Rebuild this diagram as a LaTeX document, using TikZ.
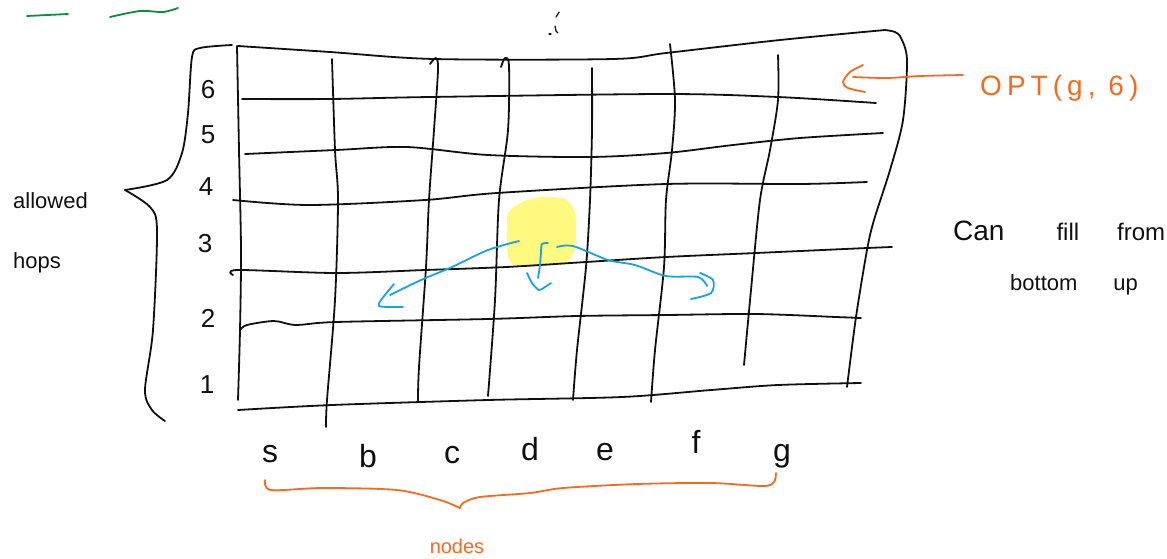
\documentclass[tikz,border=0pt]{standalone}
\usepackage{fontspec}
\setmainfont{Liberation Sans}
\newfontfamily\optfont[LetterSpace=18]{Liberation Sans}
\definecolor{ink}{HTML}{101010}
\definecolor{orng}{HTML}{F26B21}
\definecolor{cyanpen}{HTML}{1BA1DC}
\definecolor{grnpen}{HTML}{0E8C3A}
\definecolor{hilite}{HTML}{FFF97F}
\tikzset{
  pen/.style={line width=1.8pt, line cap=round, line join=round},
  gridpen/.style={pen, draw=ink},
  bluepen/.style={pen, draw=cyanpen},
  orangepen/.style={pen, draw=orng},
  greenpen/.style={pen, draw=grnpen},
  hand/.style={inner sep=0pt, text=ink},
  handorange/.style={inner sep=0pt, text=orng},
  digit/.style={hand, anchor=base, font=\fontsize{26}{28}\selectfont},
  letter/.style={hand, anchor=base, font=\fontsize{32}{34}\selectfont},
}
\begin{document}
\begin{tikzpicture}[x=1pt,y=-1pt]
\useasboundingbox (0,0) rectangle (1167,558);

% highlighted cell
\fill[hilite] plot[smooth cycle, tension=0.4] coordinates {(508,213) (522,202) (541,197) (565,199) (575,212) (576,235) (574,252) (566,262) (540,264) (514,265) (508,255) (507,235)};

% horizontal grid lines
\draw[gridpen] plot[smooth,tension=0.5] coordinates {(238,46) (330,52) (434,59) (613,59) (666,53) (780,40) (885,30)};
\draw[gridpen] plot[smooth,tension=0.5] coordinates {(242,99) (330,99) (430,97) (666,94) (778,97) (876,103)};
\draw[gridpen] plot[smooth,tension=0.5] coordinates {(245,154) (336,150) (407,147) (488,155) (590,157) (666,153) (733,145) (800,138) (883,133)};
\draw[gridpen] plot[smooth,tension=0.5] coordinates {(233,200) (309,205) (425,200) (497,193) (666,184) (800,184) (867,182)};
\draw[gridpen] plot[smooth,tension=0.5] coordinates {(233,275) (238,270) (336,273) (425,270) (506,267) (586,262) (666,257) (756,253) (867,248) (892,247)};
\draw[gridpen] plot[smooth,tension=0.5] coordinates {(240,330) (247,325) (274,321) (296,325) (336,322) (488,319) (577,316) (666,315) (756,314) (836,317) (861,318)};
\draw[gridpen] plot[smooth,tension=0.5] coordinates {(238,410) (332,405) (488,400) (622,397) (711,390) (778,385) (861,383)};

% vertical grid lines
\draw[gridpen] plot[smooth,tension=0.5] coordinates {(237,46) (239,150) (241,250) (240,330) (238,400)};
\draw[gridpen] plot[smooth,tension=0.5] coordinates {(332,59) (335,150) (338,200) (335,300) (327,400) (326,427)};
\draw[gridpen] plot[smooth,tension=0.5] coordinates {(430,64) (436,58) (438,70) (434,130) (429,200) (426,267) (419,367) (418,402)};
\draw[gridpen] plot[smooth,tension=0.5] coordinates {(501,67) (505,58) (509,66) (508,130) (499,200) (495,300) (488,396)};
\draw[gridpen] plot[smooth,tension=0.5] coordinates {(592,68) (592,130) (590,200) (586,267) (577,350) (573,400)};
\draw[gridpen] plot[smooth,tension=0.5] coordinates {(670,44) (675,100) (672,150) (666,200) (664,267) (655,350) (651,402)};
\draw[gridpen] plot[smooth,tension=0.5] coordinates {(778,55) (778,100) (770,150) (760,200) (751,290) (744,365)};
\draw[gridpen] plot[smooth,tension=0.5] coordinates {(885,30) (895,32) (901,38) (907,60) (903,120) (890,170) (874,220) (867,250) (856,317) (847,387)};

% blue arrows
\draw[bluepen] plot[smooth,tension=0.5] coordinates {(519,241) (488,250) (452,267) (421,280) (390,295)};
\draw[bluepen] plot[smooth,tension=0.5] coordinates {(394,284) (381,300) (379,306) (390,307) (403,307)};
\draw[bluepen] plot[smooth,tension=0.5] coordinates {(548,243) (542,244) (541,252) (540,265) (538,278)};
\draw[bluepen] plot[smooth,tension=0.5] coordinates {(527,273) (532,283) (539,290) (545,287) (551,283)};
\draw[bluepen] plot[smooth,tension=0.5] coordinates {(557,247) (573,246) (608,260) (635,265) (666,276) (698,277) (707,286)};
\draw[bluepen] plot[smooth,tension=0.5] coordinates {(700,273) (713,280) (711,293) (691,299)};

% orange arrow to OPT
\draw[orangepen] plot[smooth,tension=0.5] coordinates {(963,75) (920,76) (887,78) (853,77)};
\draw[orangepen] plot[smooth,tension=0.5] coordinates {(863,65) (850,72) (843,82) (848,88) (865,92)};

% left brace
\draw[gridpen] plot[smooth,tension=0.5] coordinates {(232,45) (200,48) (192,57) (188,113) (182,153) (167,180) (125,190)};
\draw[gridpen] plot[smooth,tension=0.5] coordinates {(125,190) (150,207) (157,230) (153,330) (145,390) (152,410) (165,421)};

% bottom orange brace
\draw[orangepen] plot[smooth,tension=0.5] coordinates {(265,480) (271,490) (323,488) (397,490) (440,500) (460,508)};
\draw[orangepen] plot[smooth,tension=0.5] coordinates {(460,508) (463,503) (480,497) (530,493) (563,488) (637,484) (711,483) (763,486) (774,482) (776,473)};

% green marks
\draw[greenpen] (27,16) -- (68,14);
\draw[greenpen] plot[smooth,tension=0.5] coordinates {(110,17) (140,11) (163,12) (178,8)};

% tiny marks
\draw[gridpen, line width=1.2pt] (559,12) -- (556,17);
\draw[gridpen, line width=1.2pt] (555,26) -- (556,31) -- (558,33);
\draw[gridpen, line width=1.2pt] (549,34) -- (551,34);

% texts
\node[hand, anchor=base west, font=\fontsize{22}{24}\selectfont] (allowed) at (13,208) {allowed};
\node[hand, anchor=base west, font=\fontsize{22}{24}\selectfont] (hops) at (13,268) {hops};

\node[digit] (h6) at (208,98) {6};
\node[digit] (h5) at (208,143) {5};
\node[digit] (h4) at (206,195) {4};
\node[digit] (h3) at (205,252) {3};
\node[digit] (h2) at (208,327) {2};
\node[digit] (h1) at (207,393) {1};

\node[letter] (ns) at (270,462) {s};
\node[letter] (nb) at (368,467) {b};
\node[letter] (nc) at (452,463) {c};
\node[letter] (nd) at (530,460) {d};
\node[letter] (ne) at (605,460) {e};
\node[letter] (nf) at (696,453) {f};
\node[letter] (ng) at (782,461) {g};

\node[handorange, anchor=base, font=\fontsize{20}{22}\selectfont] (nodes) at (457,553) {nodes};
\node[handorange, anchor=base west, font={\optfont\fontsize{28}{30}\selectfont}] (opt) at (980,95) {OPT(g, 6)};

\node[hand, anchor=base west, font=\fontsize{24}{26}\selectfont] (canfill) at (953,240) {{\fontsize{28}{30}\selectfont Can}\hspace{52pt}fill\hspace{38pt}from};
\node[hand, anchor=base west, font=\fontsize{22}{24}\selectfont] (bottomup) at (1010,290) {bottom\hspace{36pt}up};
\end{tikzpicture}
\end{document}
